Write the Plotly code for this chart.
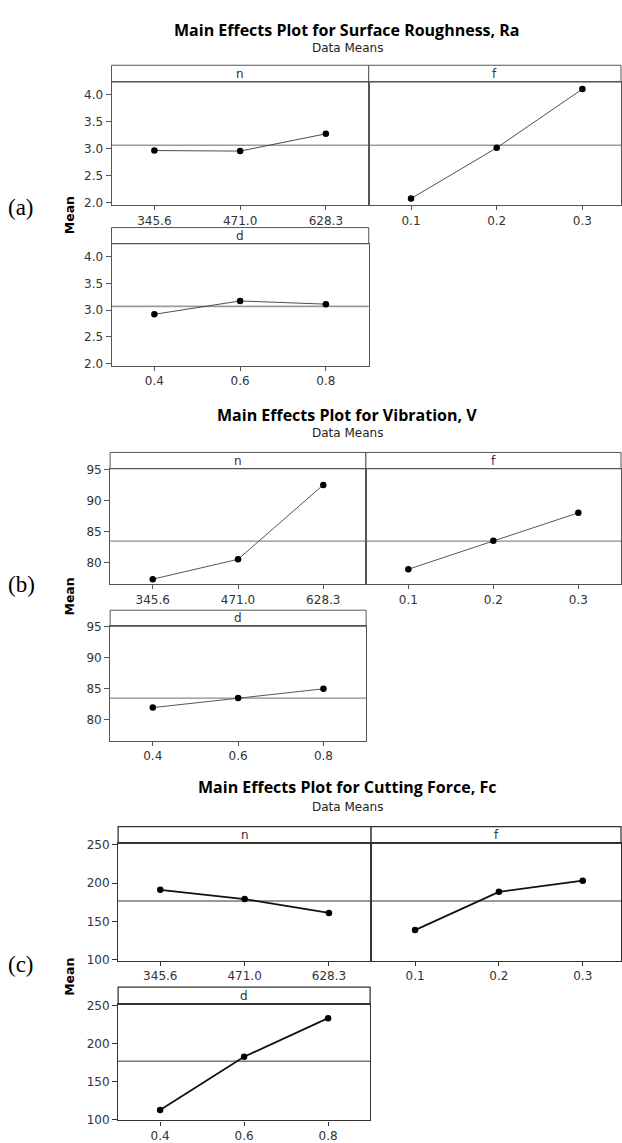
import plotly.graph_objects as go

# ---------------------------------------------------------------- data
N_LEVELS = ["345.6", "471.0", "628.3"]
F_LEVELS = ["0.1", "0.2", "0.3"]
D_LEVELS = ["0.4", "0.6", "0.8"]
FACTOR_NAMES = ["n", "f", "d"]

# (a) surface roughness Ra, mean per level
RA_N = [2.97, 2.96, 3.28]
RA_F = [2.08, 3.02, 4.11]
RA_D = [2.92, 3.17, 3.11]
RA_TICKS = [2.0, 2.5, 3.0, 3.5, 4.0]

# (b) vibration V, mean per level
V_N = [77.3, 80.5, 92.5]
V_F = [78.9, 83.5, 88.0]
V_D = [81.9, 83.45, 84.95]
V_TICKS = [80, 85, 90, 95]

# (c) cutting force Fc, mean per level
FC_N = [191.4, 179.4, 161.2]
FC_F = [138.9, 188.8, 203.4]
FC_D = [112.4, 182.9, 233.8]
FC_TICKS = [100, 150, 200, 250]

TITLES = [
    "Main Effects Plot for Surface Roughness, Ra",
    "Main Effects Plot for Vibration, V",
    "Main Effects Plot for Cutting Force, Fc",
]
PANEL_TAGS = ["(a)", "(b)", "(c)"]

# ---------------------------------------------------------------- layout
W, H = 622, 1143


def px(x):
    return x / W


def py(y):
    return 1 - y / H


SECTIONS = [
    dict(series=[RA_N, RA_F, RA_D], ticks=RA_TICKS, tickfmt=".1f",
         yrange=[1.956, 4.24], left=111.7, div=369.3, d_right=369.3,
         top=(60, 77, 201.7), bottom=(224.3, 240.7, 364.3),
         f_range=[-0.494, 2.451], title_y=24, sub_y=42.5, tag_y=203.5, mean_y=212,
         frame=dict(color="#555555", width=1.0),
         line=dict(color="#3a3a3a", width=0.9),
         ref=dict(color="#9a9a9a", width=1.6)),
    dict(series=[V_N, V_F, V_D], ticks=V_TICKS, tickfmt="d",
         yrange=[76.5, 95.1], left=110.3, div=366.5, d_right=366.7,
         top=(452, 468.5, 585.3), bottom=(611.7, 628, 744),
         f_range=[-0.499, 2.502], title_y=414.5, sub_y=432.5, tag_y=586, mean_y=598,
         frame=dict(color="#555555", width=1.0),
         line=dict(color="#555555", width=1.0),
         ref=dict(color="#8a8a8a", width=1.2)),
    dict(series=[FC_N, FC_F, FC_D], ticks=FC_TICKS, tickfmt="d",
         yrange=[98.7, 252.1], left=118.3, div=371.7, d_right=370.7,
         top=(830.7, 847.7, 966.7), bottom=(993.3, 1010.7, 1128.3),
         f_range=[-0.524, 2.456], title_y=790.7, sub_y=810.7, tag_y=970, mean_y=983,
         frame=dict(color="#333333", width=1.25),
         line=dict(color="#111111", width=1.8),
         ref=dict(color="#777777", width=1.5)),
]

LEVELS = [N_LEVELS, F_LEVELS, D_LEVELS]
TICK_FONT = dict(family="DejaVu Sans", size=12, color="#333333")

fig = go.Figure()
shapes = []
annotations = []
layout_axes = {}

for s, sec in enumerate(SECTIONS):
    grand_mean = sum(sum(v) for v in sec["series"]) / 9.0
    st_top, pl_top, pl_bot = sec["top"]
    sb_top, pb_top, pb_bot = sec["bottom"]
    panels = [
        dict(x0=sec["left"], x1=sec["div"], strip=st_top, y0=pl_top, y1=pl_bot,
             xr=[-0.5, 2.5], yticks=True),
        dict(x0=sec["div"], x1=W, strip=st_top, y0=pl_top, y1=pl_bot,
             xr=sec["f_range"], yticks=False),
        dict(x0=sec["left"], x1=sec["d_right"], strip=sb_top, y0=pb_top, y1=pb_bot,
             xr=[-0.5, 2.5], yticks=True),
    ]
    for p, pan in enumerate(panels):
        k = s * 3 + p + 1
        xa = "x" if k == 1 else f"x{k}"
        ya = "y" if k == 1 else f"y{k}"
        xkey = "xaxis" if k == 1 else f"xaxis{k}"
        ykey = "yaxis" if k == 1 else f"yaxis{k}"

        fig.add_trace(go.Scatter(
            x=LEVELS[p], y=sec["series"][p], xaxis=xa, yaxis=ya,
            mode="lines+markers", showlegend=False,
            line=dict(color=sec["line"]["color"], width=sec["line"]["width"]),
            marker=dict(color="black", size=6.5),
            cliponaxis=False,
        ))

        layout_axes[xkey] = dict(
            domain=[px(pan["x0"]), px(pan["x1"])], anchor=ya,
            type="category", categoryorder="array", categoryarray=LEVELS[p],
            range=pan["xr"], showgrid=False, zeroline=False,
            showline=True, mirror=True,
            linecolor=sec["frame"]["color"], linewidth=sec["frame"]["width"],
            ticks="outside", ticklen=4, tickwidth=1, tickcolor=sec["frame"]["color"],
            tickfont=TICK_FONT, fixedrange=True,
        )
        layout_axes[ykey] = dict(
            domain=[py(pan["y1"]), py(pan["y0"])], anchor=xa,
            range=sec["yrange"], showgrid=False, zeroline=False,
            showline=True, mirror=True,
            linecolor=sec["frame"]["color"], linewidth=sec["frame"]["width"],
            tickvals=sec["ticks"], tickformat=sec["tickfmt"],
            ticks="outside" if pan["yticks"] else "",
            showticklabels=pan["yticks"],
            ticklen=5, tickwidth=1, tickcolor=sec["frame"]["color"],
            tickfont=TICK_FONT, fixedrange=True,
        )

        # horizontal reference line at the overall mean
        shapes.append(dict(
            type="line", xref=f"{xa} domain", yref=ya,
            x0=0, x1=1, y0=grand_mean, y1=grand_mean,
            line=dict(color=sec["ref"]["color"], width=sec["ref"]["width"]),
            layer="below",
        ))
        # factor strip above the panel
        shapes.append(dict(
            type="rect", xref="paper", yref="paper",
            x0=px(pan["x0"]), x1=px(pan["x1"]),
            y0=py(pan["y0"]), y1=py(pan["strip"]),
            line=dict(color=sec["frame"]["color"], width=sec["frame"]["width"]),
            fillcolor="white", layer="below",
        ))
        annotations.append(dict(
            text=FACTOR_NAMES[p], xref="paper", yref="paper",
            x=px((pan["x0"] + min(pan["x1"], W)) / 2),
            y=py((pan["strip"] + pan["y0"]) / 2),
            showarrow=False, xanchor="center", yanchor="middle",
            font=dict(family="DejaVu Sans", size=12, color="#333333"),
        ))

    # section title, subtitle, tag and y label
    annotations.append(dict(
        text=f"<b>{TITLES[s]}</b>", xref="paper", yref="paper",
        x=px(348), y=py(sec["title_y"]), showarrow=False,
        xanchor="center", yanchor="middle",
        font=dict(family="Open Sans", size=16, color="black"),
    ))
    annotations.append(dict(
        text="Data Means", xref="paper", yref="paper",
        x=px(348), y=py(sec["sub_y"]), showarrow=False,
        xanchor="center", yanchor="middle",
        font=dict(family="DejaVu Sans", size=12, color="#222222"),
    ))
    annotations.append(dict(
        text=PANEL_TAGS[s], xref="paper", yref="paper",
        x=px(21.5), y=py(sec["tag_y"]), showarrow=False,
        xanchor="center", yanchor="middle",
        font=dict(family="Liberation Serif", size=23, color="black"),
    ))
    annotations.append(dict(
        text="<b>Mean</b>", xref="paper", yref="paper",
        x=px(70), y=py(sec["mean_y"]), showarrow=False, textangle=-90,
        xanchor="center", yanchor="middle",
        font=dict(family="DejaVu Sans", size=12.5, color="black"),
    ))

fig.update_layout(
    width=W, height=H,
    margin=dict(l=0, r=0, t=0, b=0),
    paper_bgcolor="white", plot_bgcolor="white",
    shapes=shapes, annotations=annotations,
    **layout_axes,
)

fig.write_html("out.html", config=dict(displayModeBar=False))
